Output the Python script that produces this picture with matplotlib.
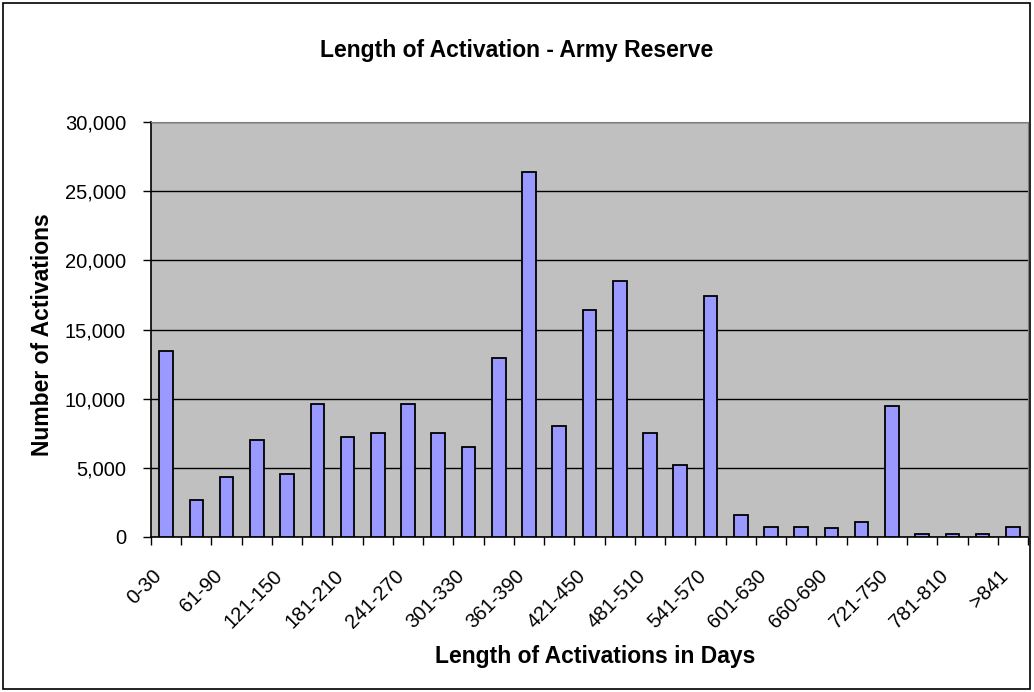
import matplotlib
matplotlib.use("Agg")
from matplotlib import pyplot as plt
from matplotlib.patches import Rectangle
from matplotlib.ticker import FuncFormatter, FixedLocator
import matplotlib.transforms as mtransforms
import numpy as np

plt.rcParams['font.family'] = ['Liberation Sans', 'DejaVu Sans']

# day ranges (every other one is labelled on the axis)
categories = ["0-30", "31-60", "61-90", "91-120", "121-150", "151-180",
              "181-210", "211-240", "241-270", "271-300", "301-330", "331-360",
              "361-390", "391-420", "421-450", "451-480", "481-510", "511-540",
              "541-570", "571-600", "601-630", "631-660", "660-690", "691-720",
              "721-750", "751-780", "781-810", "811-840", ">841"]

activations = [13450, 2680, 4320, 7040, 4560, 9620, 7250, 7500, 9620, 7500,
               6530, 12950, 26400, 8000, 16400, 18500, 7500, 5180, 17400, 1600,
               750, 750, 620, 1090, 9480, 250, 250, 250, 750]

yticks = [0, 5000, 10000, 15000, 20000, 25000, 30000]

fig = plt.figure(figsize=(10.34, 6.92), dpi=100)
ax = fig.add_axes([151/1034, 1 - 537/692, (1028-151)/1034, (537-122)/692])

x = np.arange(len(categories))
ax.bar(x, activations, width=0.45, color="#9999FF", edgecolor="black",
       linewidth=1.3, zorder=3)

ax.set_facecolor("#C0C0C0")
ax.set_xlim(-0.5, len(categories) - 0.5)
ax.set_ylim(0, 30000)
ax.set_yticks(yticks)
ax.yaxis.set_major_formatter(FuncFormatter(lambda v, p: "{:,.0f}".format(v)))
ax.grid(axis="y", color="black", linewidth=1, zorder=1)

# labels at every second category, tick marks on the category boundaries
ax.set_xticks(x[::2])
ax.set_xticklabels(categories[::2], rotation=45, ha="right",
                   rotation_mode="anchor")
ax.xaxis.set_minor_locator(FixedLocator(np.arange(-0.5, len(categories), 1)))
ax.tick_params(axis="x", which="major", length=0, pad=21, labelsize=14.5)
ax.tick_params(axis="x", which="minor", length=6, width=1, direction="out")
ax.tick_params(axis="y", length=6, width=1, labelsize=14.5, pad=12)
shift = mtransforms.ScaledTranslation(-14/100, 0, fig.dpi_scale_trans)
for lbl in ax.get_xticklabels():
    lbl.set_transform(lbl.get_transform() + shift)

for side in ["top", "right"]:
    ax.spines[side].set_color("#808080")
for side in ["left", "bottom"]:
    ax.spines[side].set_color("black")
    ax.spines[side].set_linewidth(1.2)

fig.text(517/1034, 1 - 50/692, "Length of Activation - Army Reserve",
         ha="center", va="center", fontsize=16.5, fontweight="bold")
fig.text(43/1034, 1 - 335/692, "Number of Activations", rotation=90,
         ha="center", va="center", fontsize=16.5, fontweight="bold")
fig.text(595/1034, 1 - 656/692, "Length of Activations in Days",
         ha="center", va="center", fontsize=16.5, fontweight="bold")

# outer chart border
fig.patches.append(Rectangle((3/1034, 3/692), 1027/1034, 686/692,
                             transform=fig.transFigure, fill=False,
                             edgecolor="black", linewidth=1.2))

fig.savefig("out.png", dpi=100)
